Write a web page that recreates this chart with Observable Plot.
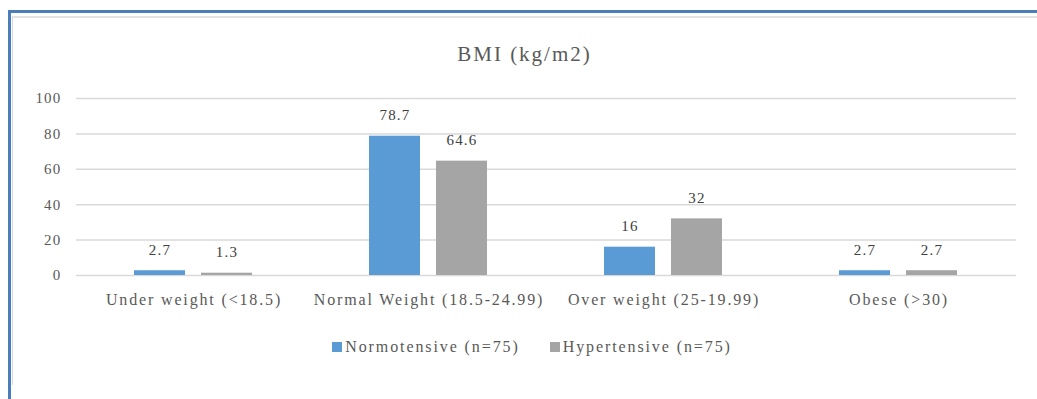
<!DOCTYPE html>
<html><head><meta charset="utf-8">
<script src="https://cdn.jsdelivr.net/npm/d3@7"></script>
<script src="https://cdn.jsdelivr.net/npm/@observablehq/plot@0.6"></script>
<style>
body{margin:0;background:#fff;width:1037px;height:399px;overflow:hidden;position:relative;font-family:"Liberation Serif","DejaVu Serif",serif;}
#outer{position:absolute;left:8px;top:10px;width:1100px;height:500px;border-left:3px solid #4a7ebb;border-top:3px solid #4a7ebb;}
#inner{position:absolute;left:12px;top:16px;width:1100px;height:367px;border-left:1px solid #d9d9d9;border-top:2px solid #e2e2e2;}
#title{position:absolute;left:0;width:1049px;top:42px;text-align:center;font-size:21px;letter-spacing:2px;color:#595959;}
#chart{position:absolute;left:0;top:80px;}
#legend{position:absolute;left:0;width:1064px;top:338px;display:flex;justify-content:center;gap:30px;font-size:16px;letter-spacing:1.9px;color:#595959;}
#legend .item{display:flex;align-items:center;}
#legend .sw{width:10px;height:10px;margin-right:3px;}
#chart svg text{font-family:"Liberation Serif","DejaVu Serif",serif;}
</style>
</head><body>
<div id="outer"></div>
<div id="inner"></div>
<div id="title">BMI (kg/m2)</div>
<div id="chart"></div>
<div id="legend"></div>
<script>
const categories = ["Under weight (<18.5)", "Normal Weight (18.5-24.99)", "Over weight (25-19.99)", "Obese (>30)"];
const series = ["Normotensive (n=75)", "Hypertensive (n=75)"];
const normotensive = [2.7, 78.7, 16, 2.7];
const hypertensive = [1.3, 64.6, 32, 2.7];
const yTicks = [0, 20, 40, 60, 80, 100];
const colors = ["#5b9bd5", "#a5a5a5"];

const data = [];
categories.forEach((c, i) => {
  data.push({category: c, series: series[0], value: normotensive[i]});
  data.push({category: c, series: series[1], value: hypertensive[i]});
});

const chart = Plot.plot({
  width: 1037,
  height: 240,
  marginLeft: 75,
  marginRight: 21,
  marginTop: 18,
  marginBottom: 45,
  style: {fontFamily: "Liberation Serif, DejaVu Serif, serif", background: "transparent", overflow: "visible", letterSpacing: "1.2px"},
  fx: {domain: categories, padding: 0, label: null},
  x: {domain: series, paddingInner: 0.235, paddingOuter: 0.846, axis: null},
  y: {domain: [0, 100], label: null},
  color: {domain: series, range: colors},
  marks: [
    Plot.gridY(yTicks, {stroke: "#d9d9d9", strokeOpacity: 1, strokeWidth: 1.5}),
    Plot.axisY(yTicks, {tickSize: 0, tickPadding: 15, fontSize: 15, fill: "#595959", label: null}),
    Plot.axisFx({anchor: "bottom", tickSize: 0, tickPadding: 18, fontSize: 16, fill: "#595959", label: null}),
    Plot.barY(data, {fx: "category", x: "series", y: "value", fill: "series"}),
    Plot.text(data, {fx: "category", x: "series", y: "value", text: d => String(d.value), dy: -16, lineAnchor: "bottom", fontSize: 15, fill: "#404040"})
  ]
});
chart.querySelectorAll("g[aria-label='fx-axis tick label']").forEach(e => e.style.letterSpacing = "1.85px");
document.getElementById("chart").appendChild(chart);

const legend = document.getElementById("legend");
series.forEach((s, i) => {
  const item = document.createElement("div");
  item.className = "item";
  const sw = document.createElement("span");
  sw.className = "sw";
  sw.style.background = colors[i];
  const t = document.createElement("span");
  t.textContent = s;
  item.appendChild(sw);
  item.appendChild(t);
  legend.appendChild(item);
});
</script>
</body></html>
